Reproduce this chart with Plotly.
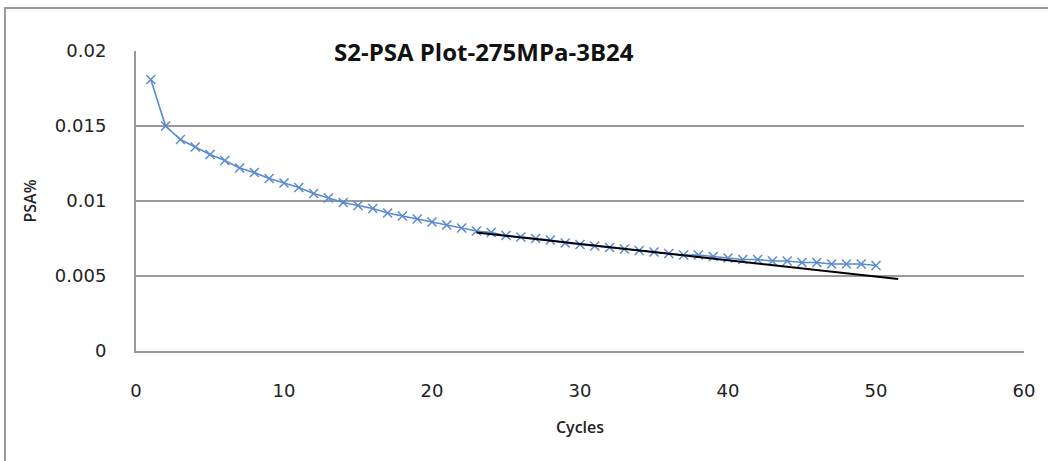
import plotly.graph_objects as go

# PSA% measured at each load cycle
cycles = list(range(1, 51))
psa_pct = [
    0.0181, 0.0150, 0.0141, 0.0136, 0.0131, 0.0127, 0.0122, 0.0119, 0.0115, 0.0112,
    0.0109, 0.0105, 0.0102, 0.0099, 0.0097, 0.0095, 0.0092, 0.0090, 0.0088, 0.0086,
    0.0084, 0.0082, 0.0080, 0.0079, 0.0077, 0.0076, 0.0075, 0.0074, 0.0072, 0.0071,
    0.0070, 0.0069, 0.0068, 0.0067, 0.0066, 0.0065, 0.0064, 0.0064, 0.0063, 0.0062,
    0.0061, 0.0061, 0.0060, 0.0060, 0.0059, 0.0059, 0.0058, 0.0058, 0.0058, 0.0057,
]

# Linear trend over the later cycles
trend_x = [23.0, 51.5]
trend_y = [0.0079, 0.0048]

x_ticks = [0, 10, 20, 30, 40, 50, 60]
y_ticks = [0, 0.005, 0.01, 0.015, 0.02]
y_tick_labels = ["0", "0.005", "0.01", "0.015", "0.02"]

GRID = "#9a9a9a"
TICK_FONT = dict(family="DejaVu Sans", size=18, color="#222222")
LABEL_FONT = dict(family="Open Sans", size=16, color="#222222", weight=600)

fig = go.Figure()
fig.add_trace(go.Scatter(
    x=cycles, y=psa_pct, mode="lines+markers",
    line=dict(color="#5a8ad0", width=1.6),
    marker=dict(symbol="x-thin", size=9, line=dict(color="#5a8ad0", width=1.5)),
    showlegend=False,
))
fig.add_trace(go.Scatter(
    x=trend_x, y=trend_y, mode="lines",
    line=dict(color="#000000", width=2),
    showlegend=False,
))

fig.update_layout(
    width=1048, height=461,
    margin=dict(l=136, r=24, t=51, b=110),
    paper_bgcolor="white", plot_bgcolor="white",
    xaxis=dict(
        range=[0, 60], tickvals=x_ticks, showgrid=False, zeroline=False,
        showline=True, linecolor=GRID, linewidth=2, ticks="",
        tickfont=TICK_FONT, ticklabelstandoff=22,
        title=dict(text="Cycles", font=LABEL_FONT, standoff=22),
    ),
    yaxis=dict(
        range=[0, 0.02], tickvals=y_ticks, ticktext=y_tick_labels,
        showgrid=True, gridcolor=GRID, gridwidth=2, zeroline=False,
        showline=True, linecolor=GRID, linewidth=2, ticks="",
        tickfont=TICK_FONT, ticklabelstandoff=24,
        title=dict(text="PSA%", font=LABEL_FONT, standoff=14),
    ),
    annotations=[dict(
        text="<b>S2-PSA Plot-275MPa-3B24</b>", xref="paper", yref="paper",
        x=0.392, y=1.0, xanchor="center", yanchor="middle", showarrow=False,
        font=dict(family="Open Sans", size=24, color="#111111"),
    )],
    shapes=[dict(
        type="rect", xref="paper", yref="paper",
        x0=-0.1475, x1=1.05, y0=-0.45, y1=1.143,
        line=dict(color=GRID, width=2), layer="below",
    )],
)

fig.write_html("out.html")
